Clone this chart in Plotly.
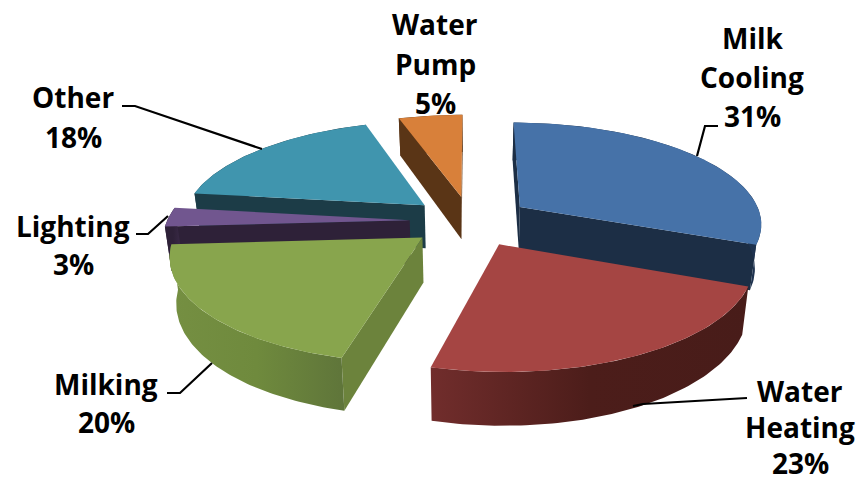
import numpy as np
import plotly.graph_objects as go

# Farm electricity use by end use, in percent
categories = ["Milk Cooling", "Water Heating", "Milking", "Lighting", "Other", "Water Pump"]
shares = [31, 23, 20, 3, 18, 5]
label_lines = [["Milk", "Cooling"], ["Water", "Heating"], ["Milking"], ["Lighting"], ["Other"], ["Water", "Pump"]]

top_colors = ["#4672A8", "#A54543", "#88A54D", "#71568F", "#4095AE", "#D8803A"]
cut_colors = ["#1C2E45", "#6E2B2B", "#6C833C", "#2E2138", "#1C3C47", "#5A3516"]
rim_gradients = [
    ["#1C2E45", "#1C2E45", "#1F3350"],
    ["#712D2C", "#4C1D1A", "#481C19"],
    ["#758F42", "#6F8A3D", "#5F753A"],
    ["#2E2138", "#2E2138", "#3A2A47"],
    ["#1C3C47", "#1C3C47", "#1C3C47"],
    ["#5A3516", "#5A3516", "#5A3516"],
]

# Paint order, far slices first
paint_order = [5, 4, 3, 0, 2, 1]

# Label placement: centre x, first row y, row spacing
label_x = [752, 800, 106, 73, 73, 435]
label_y = [38, 391, 384, 226, 97, 24]
row_gap = [39, 36, 38, 38, 40, 39.5]

# Leader lines from label to slice
leader_x = [[718, 705, 697], [747, 643, 633], [167, 180, 212], [136, 148, 168], [122, 135, 262]]
leader_y = [[126, 126, 156], [398, 404, 406], [393, 393, 363], [234, 234, 216], [106, 106, 149]]

# Oblique view of the exploded disc
CX, CY, SCALE_X, SCALE_Y, PERSP, EXPLODE, DEPTH, TAPER = 470.5, 221.0, 242.7, 100.9, 0.149, 0.251, 44.0, 0.022

edges = np.cumsum([0] + shares) * 3.6


def project(X, Y, Z=0.0):
    w = 1 - PERSP * np.asarray(Y)
    return (CX + SCALE_X * np.asarray(X) / w * (1 - TAPER * np.asarray(Z)),
            CY + SCALE_Y * np.asarray(Y) / w + DEPTH * np.asarray(Z) / w)


def polygon(fig, xs, ys, color=None, gradient=None):
    if gradient is None:
        kwargs = dict(fillcolor=color)
    else:
        stops = np.linspace(0, 1, len(gradient))
        kwargs = dict(fillgradient=dict(type="horizontal", colorscale=[[s, c] for s, c in zip(stops, gradient)]))
    fig.add_trace(go.Scatter(x=xs, y=ys, mode="lines", fill="toself", line=dict(width=0),
                             hoverinfo="skip", showlegend=False, **kwargs))


def signed_area(xs, ys):
    return 0.5 * np.sum(np.asarray(xs) * np.roll(ys, -1) - np.roll(xs, -1) * np.asarray(ys))


fig = go.Figure()

for i in paint_order:
    mid = np.radians((edges[i] + edges[i + 1]) / 2)
    ax, ay = EXPLODE * np.sin(mid), -EXPLODE * np.cos(mid)
    t = np.radians(np.linspace(edges[i], edges[i + 1], 80))
    ox, oy = ax + np.sin(t), ay - np.cos(t)

    # Flat cut faces on both sides of the wedge, drawn only when they face the viewer
    for ex, ey, wanted in ((ox[0], oy[0], -1), (ox[-1], oy[-1], 1)):
        px, py = project([ax, ex, ex, ax], [ay, ey, ey, ay], [0, 0, 1, 1])
        if signed_area(px, py) * wanted > 0:
            polygon(fig, px.tolist(), py.tolist(), color=cut_colors[i])

    # Outer rim
    tx, ty = project(ox, oy, 0.0)
    bx, by = project(ox, oy, 1.0)
    polygon(fig, np.r_[tx, bx[::-1]].tolist(), np.r_[ty, by[::-1]].tolist(), gradient=rim_gradients[i])

    # Top surface
    cx0, cy0 = project(ax, ay, 0.0)
    polygon(fig, np.r_[cx0, tx].tolist(), np.r_[cy0, ty].tolist(), color=top_colors[i])

for lx, ly in zip(leader_x, leader_y):
    fig.add_trace(go.Scatter(x=lx, y=ly, mode="lines", line=dict(color="#000000", width=2.2),
                             hoverinfo="skip", showlegend=False))

for i, rows in enumerate(label_lines):
    for r, text in enumerate(rows + [f"{shares[i]}%"]):
        fig.add_annotation(x=label_x[i], y=label_y[i] + r * row_gap[i], text=text, showarrow=False,
                           xanchor="center", yanchor="middle",
                           font=dict(family="Open Sans", size=28, color="#000000", weight="bold"))

fig.update_layout(
    width=861, height=482, margin=dict(l=0, r=0, t=0, b=0),
    paper_bgcolor="white", plot_bgcolor="white",
    xaxis=dict(range=[0, 861], visible=False, fixedrange=True),
    yaxis=dict(range=[482, 0], visible=False, fixedrange=True),
    showlegend=False,
)
fig.write_html("out.html")
